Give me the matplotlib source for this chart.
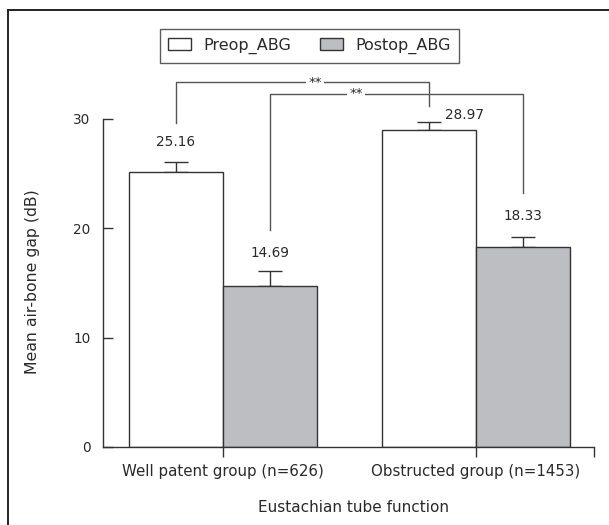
import matplotlib.pyplot as plt
from matplotlib.lines import Line2D
import numpy as np

groups = ['Well patent group (n=626)', 'Obstructed group (n=1453)']
preop = [25.16, 28.97]
postop = [14.69, 18.33]
preop_err = [0.91, 0.76]
postop_err = [1.41, 0.88]
series = ['Preop_ABG', 'Postop_ABG']

# significance brackets: (from bar, to bar, left leg bottom, top, right leg bottom, star x)
brackets = [((0, 0), (1, 0), 29.63, 33.38, 31.19, 0.364),
            ((0, 1), (1, 1), 19.85, 32.29, 23.23, 0.526)]

plt.rcParams['font.family'] = 'DejaVu Sans'
txt = '#2a2a2a'
gray = '#bdbec1'
edge = '#333333'

fig = plt.figure(figsize=(6.09, 5.25), dpi=100)
ax = fig.add_axes([103/609, 1-447/525, 491/609, 328/525])

x = np.arange(len(groups))
w = 0.3715
centers = {}
for i in range(len(groups)):
    centers[(i, 0)] = x[i] - w/2
    centers[(i, 1)] = x[i] + w/2

b1 = ax.bar(x - w/2, preop, w, color='white', edgecolor=edge, linewidth=1.0,
            label=series[0], zorder=2)
b2 = ax.bar(x + w/2, postop, w, color=gray, edgecolor=edge, linewidth=1.0,
            label=series[1], zorder=2)
ax.errorbar(x - w/2, preop, yerr=[np.zeros(2), preop_err], fmt='none',
            ecolor=edge, elinewidth=1.0, capsize=8.5, capthick=1.0, zorder=1)
ax.errorbar(x + w/2, postop, yerr=[np.zeros(2), postop_err], fmt='none',
            ecolor=edge, elinewidth=1.0, capsize=8.5, capthick=1.0, zorder=1)

# value labels
fs = 9.8
wfs = 11
ax.text(x[0] - w/2, preop[0] + preop_err[0] + 1.85, f'{preop[0]:.2f}',
        ha='center', va='center', fontsize=fs, color=txt)
ax.text(x[0] + w/2, postop[0] + postop_err[0] + 1.65, f'{postop[0]:.2f}',
        ha='center', va='center', fontsize=fs, color=txt)
ax.text(x[1] - w/2 + 0.063, preop[1] + preop_err[1] + 0.65, f'{preop[1]:.2f}',
        ha='left', va='center', fontsize=fs, color=txt)
ax.text(x[1] + w/2, postop[1] + postop_err[1] + 1.9, f'{postop[1]:.2f}',
        ha='center', va='center', fontsize=fs, color=txt)

for a, b, yl, yt, yr, sx in brackets:
    xa, xb = centers[a], centers[b]
    ax.plot([xa, xa, xb, xb], [yl, yt, yt, yr], color='#555555', lw=1.0,
            clip_on=False, zorder=3)
    ax.text(sx, yt, '**', ha='center', va='center', fontsize=9.5, color=txt,
            bbox=dict(facecolor='white', edgecolor='none', pad=1.5), zorder=4,
            clip_on=False)

ax.set_xlim(-0.474, 1.466)
ax.set_ylim(0, 30)
ax.set_yticks([0, 10, 20, 30])
ax.set_xticks([0, 1, 1.466])
ax.set_xticklabels(groups + [''], fontsize=10.8)
ax.tick_params(axis='y', direction='in', length=7, width=1.0, pad=9,
               labelsize=fs, colors=edge, labelcolor=txt)
ax.tick_params(axis='x', direction='out', length=7, width=1.0, pad=5,
               colors=edge, labelcolor=txt)
for s in ['top', 'right']:
    ax.spines[s].set_visible(False)
for s in ['left', 'bottom']:
    ax.spines[s].set_color(edge)
    ax.spines[s].set_linewidth(1.0)

fig.text(33/609, 1-282/525, 'Mean air-bone gap (dB)', rotation=90,
         ha='center', va='center', fontsize=11.3, color=txt)
fig.text(353/609, 1-507/525, 'Eustachian tube function',
         ha='center', va='center', fontsize=wfs, color=txt)

lfs = 11.5
leg = fig.legend(handles=[b1, b2], loc='center', ncol=2,
                 bbox_to_anchor=(309.5/609, 1-46/525), fontsize=lfs,
                 frameon=True, fancybox=False, edgecolor=edge,
                 handlelength=1.45, handleheight=0.75, handletextpad=0.75,
                 columnspacing=1.8, borderpad=0.55, borderaxespad=0,
                 labelcolor=txt)
leg.get_frame().set_linewidth(1.0)

# outer frame (cropped on right and bottom)
fig.add_artist(Line2D([8/609, 8/609], [0, 1-10/525], transform=fig.transFigure,
                      color='#222222', lw=1.4))
fig.add_artist(Line2D([8/609, 1], [1-10/525, 1-10/525], transform=fig.transFigure,
                      color='#222222', lw=1.4))

fig.savefig('out.png', dpi=100)
